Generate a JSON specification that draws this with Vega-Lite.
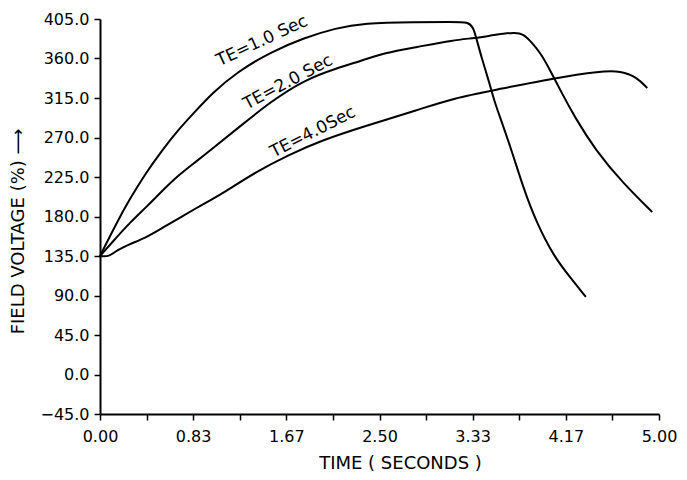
{
  "$schema": "https://vega.github.io/schema/vega-lite/v6.json",
  "autosize": "none",
  "width": 559,
  "height": 395,
  "padding": {"left": 100, "top": 19, "right": 28, "bottom": 66},
  "background": "white",
  "config": {
    "view": {"stroke": null},
    "font": "DejaVu Sans",
    "axis": {"domainColor": "black", "domainWidth": 2, "tickColor": "black", "tickWidth": 1.5, "labelColor": "black", "titleColor": "black", "grid": false, "labelFont": "DejaVu Sans", "titleFont": "DejaVu Sans", "titleFontWeight": "normal", "labelOverlap": false, "labelFlush": false}
  },
  "datasets": {
    "curves": [
      {"series": "1.0", "t": 0, "v": 135},
      {"series": "1.0", "t": 0.148, "v": 172.6},
      {"series": "1.0", "t": 0.261, "v": 198.8},
      {"series": "1.0", "t": 0.409, "v": 229.5},
      {"series": "1.0", "t": 0.557, "v": 255.7},
      {"series": "1.0", "t": 0.698, "v": 278.5},
      {"series": "1.0", "t": 0.847, "v": 299},
      {"series": "1.0", "t": 1.004, "v": 320.6},
      {"series": "1.0", "t": 1.225, "v": 344.6},
      {"series": "1.0", "t": 1.526, "v": 367.3},
      {"series": "1.0", "t": 1.818, "v": 383.3},
      {"series": "1.0", "t": 2.113, "v": 394.7},
      {"series": "1.0", "t": 2.353, "v": 400.4},
      {"series": "1.0", "t": 2.828, "v": 401.6},
      {"series": "1.0", "t": 3.158, "v": 401.6},
      {"series": "1.0", "t": 3.293, "v": 401.6},
      {"series": "1.0", "t": 3.337, "v": 395.8},
      {"series": "1.0", "t": 3.366, "v": 383.3},
      {"series": "1.0", "t": 3.414, "v": 360.5},
      {"series": "1.0", "t": 3.481, "v": 333.2},
      {"series": "1.0", "t": 3.529, "v": 310.4},
      {"series": "1.0", "t": 3.594, "v": 287.6},
      {"series": "1.0", "t": 3.689, "v": 252.3},
      {"series": "1.0", "t": 3.784, "v": 213.6},
      {"series": "1.0", "t": 3.905, "v": 172.6},
      {"series": "1.0", "t": 4.063, "v": 133.8},
      {"series": "1.0", "t": 4.21, "v": 110},
      {"series": "1.0", "t": 4.346, "v": 88.3},
      {"series": "2.0", "t": 0, "v": 135},
      {"series": "2.0", "t": 0.151, "v": 156.6},
      {"series": "2.0", "t": 0.265, "v": 172.6},
      {"series": "2.0", "t": 0.414, "v": 190.8},
      {"series": "2.0", "t": 0.564, "v": 210.2},
      {"series": "2.0", "t": 0.705, "v": 227.3},
      {"series": "2.0", "t": 0.854, "v": 242},
      {"series": "2.0", "t": 1.013, "v": 258},
      {"series": "2.0", "t": 1.233, "v": 280.8},
      {"series": "2.0", "t": 1.534, "v": 311.5},
      {"series": "2.0", "t": 1.826, "v": 335.5},
      {"series": "2.0", "t": 2.119, "v": 349.1},
      {"series": "2.0", "t": 2.359, "v": 358.2},
      {"series": "2.0", "t": 2.537, "v": 366.2},
      {"series": "2.0", "t": 2.831, "v": 373},
      {"series": "2.0", "t": 3.161, "v": 381},
      {"series": "2.0", "t": 3.358, "v": 383.3},
      {"series": "2.0", "t": 3.519, "v": 386.7},
      {"series": "2.0", "t": 3.716, "v": 390.1},
      {"series": "2.0", "t": 3.788, "v": 387.8},
      {"series": "2.0", "t": 3.859, "v": 378.7},
      {"series": "2.0", "t": 3.941, "v": 366.2},
      {"series": "2.0", "t": 4.015, "v": 349.1},
      {"series": "2.0", "t": 4.062, "v": 337.7},
      {"series": "2.0", "t": 4.126, "v": 321.8},
      {"series": "2.0", "t": 4.246, "v": 293.3},
      {"series": "2.0", "t": 4.431, "v": 255.7},
      {"series": "2.0", "t": 4.677, "v": 218.1},
      {"series": "2.0", "t": 4.94, "v": 185},
      {"series": "4.0", "t": 0, "v": 135},
      {"series": "4.0", "t": 0.08, "v": 134},
      {"series": "4.0", "t": 0.153, "v": 141.8},
      {"series": "4.0", "t": 0.269, "v": 148.7},
      {"series": "4.0", "t": 0.421, "v": 156.6},
      {"series": "4.0", "t": 0.57, "v": 168},
      {"series": "4.0", "t": 0.711, "v": 178.3},
      {"series": "4.0", "t": 0.862, "v": 189.7},
      {"series": "4.0", "t": 1.021, "v": 201},
      {"series": "4.0", "t": 1.101, "v": 206.7},
      {"series": "4.0", "t": 1.393, "v": 230.7},
      {"series": "4.0", "t": 1.685, "v": 250},
      {"series": "4.0", "t": 1.987, "v": 267},
      {"series": "4.0", "t": 2.37, "v": 283},
      {"series": "4.0", "t": 2.84, "v": 301.3},
      {"series": "4.0", "t": 3.17, "v": 315},
      {"series": "4.0", "t": 3.527, "v": 324},
      {"series": "4.0", "t": 4.062, "v": 337.7},
      {"series": "4.0", "t": 4.48, "v": 345.7},
      {"series": "4.0", "t": 4.66, "v": 345.7},
      {"series": "4.0", "t": 4.8, "v": 339},
      {"series": "4.0", "t": 4.895, "v": 326.3}
    ],
    "labels": [
      {"t": 1.449, "v": 380, "text": "TE=1.0 Sec", "angle": -25},
      {"t": 1.682, "v": 333, "text": "TE=2.0 Sec", "angle": -28},
      {"t": 1.905, "v": 276, "text": "TE=4.0Sec", "angle": -27}
    ]
  },
  "layer": [
    {
      "data": {"name": "curves"},
      "mark": {"type": "line", "color": "black", "strokeWidth": 2, "interpolate": "basis"},
      "encoding": {
        "x": {
          "field": "t", "type": "quantitative",
          "scale": {"domain": [0, 5], "nice": false, "zero": false},
          "axis": {
            "title": "TIME ( SECONDS )",
            "titleFontSize": 18,
            "titlePadding": 10,
            "titleX": 300,
            "labelFontSize": 16,
            "labelPadding": 8,
            "tickSize": 6,
            "values": [0, 0.416667, 0.833333, 1.25, 1.666667, 2.083333, 2.5, 2.916667, 3.333333, 3.75, 4.166667, 4.583333, 5],
            "labelExpr": "abs(datum.value*1.2 - round(datum.value*1.2)) < 0.01 ? format(datum.value, '.2f') : ''"
          }
        },
        "y": {
          "field": "v", "type": "quantitative",
          "scale": {"domain": [-45, 405], "nice": false, "zero": false},
          "axis": {
            "title": "FIELD VOLTAGE (%) ⟶",
            "titleFontSize": 18,
            "titlePadding": 12,
            "titleY": 212,
            "labelFontSize": 16,
            "labelPadding": 5,
            "labelOverlap": false,
            "tickCount": 11,
            "tickSize": 6,
            "values": [-45, 0, 45, 90, 135, 180, 225, 270, 315, 360, 405],
            "format": ".1f"
          }
        },
        "detail": {"field": "series"}
      }
    },
    {
      "data": {"name": "labels"},
      "mark": {"type": "text", "color": "black", "fontSize": 17, "align": "center", "baseline": "middle"},
      "encoding": {
        "x": {"field": "t", "type": "quantitative"},
        "y": {"field": "v", "type": "quantitative", "axis": {"values": [-45, 0, 45, 90, 135, 180, 225, 270, 315, 360, 405], "labelOverlap": false, "tickCount": 11, "format": ".1f"}},
        "text": {"field": "text"},
        "angle": {"field": "angle", "type": "quantitative", "scale": null}
      }
    }
  ]
}
